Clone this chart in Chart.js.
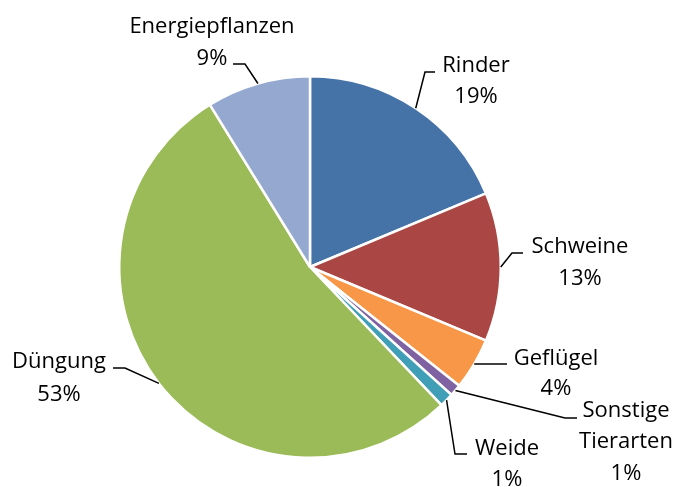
<!DOCTYPE html>
<html>
<head>
<meta charset="utf-8">
<script src="https://cdn.jsdelivr.net/npm/chart.js@4.4.1/dist/chart.umd.min.js"></script>
<style>
  html, body { margin: 0; padding: 0; background: #ffffff; }
  #wrap { width: 677px; height: 487px; }
</style>
</head>
<body>
<div id="wrap"><canvas id="c" width="677" height="487"></canvas></div>
<script>
// ---- data ----
const categories = ["Rinder", "Schweine", "Geflügel", "Sonstige Tierarten", "Weide", "Düngung", "Energiepflanzen"];
const values = [18.7, 12.6, 4.4, 1.0, 1.2, 53.3, 8.8];
const labelLines = [["Rinder"], ["Schweine"], ["Geflügel"], ["Sonstige", "Tierarten"], ["Weide"], ["Düngung"], ["Energiepflanzen"]];
const colors = ["#4573A7", "#AA4744", "#F79747", "#7F62A1", "#419EB7", "#9BBB59", "#95A9D0"];

// ---- label layout (positions of text and leader elbows) ----
const labelLayout = [
  { x: 476, y: [72, 103],        elbow: [425, 72],  end: [435, 72] },
  { x: 580, y: [253, 285],       elbow: [512, 253], end: [523, 253] },
  { x: 556, y: [365, 395],       elbow: [507, 364], end: [507, 364] },
  { x: 626, y: [417, 448, 480],  elbow: [565, 418], end: [577, 418] },
  { x: 507, y: [455, 486],       elbow: [455, 454], end: [467, 454] },
  { x: 59,  y: [368, 401],       elbow: [125, 368], end: [113, 368] },
  { x: 212, y: [33, 65],         elbow: [245, 64],  end: [233, 64] }
];

const FONT = '22px "Open Sans", Lato, sans-serif';

const labelPlugin = {
  id: 'outerLabels',
  afterDatasetsDraw(chart) {
    const ctx = chart.ctx;
    const meta = chart.getDatasetMeta(0);
    const total = values.reduce((a, b) => a + b, 0);
    ctx.save();
    ctx.strokeStyle = '#000000';
    ctx.lineWidth = 1.5;
    ctx.fillStyle = '#000000';
    ctx.font = FONT;
    ctx.textAlign = 'center';
    ctx.textBaseline = 'alphabetic';
    meta.data.forEach((arc, i) => {
      const p = arc.getProps(['x', 'y', 'startAngle', 'endAngle', 'outerRadius'], true);
      const mid = (p.startAngle + p.endAngle) / 2;
      const sx = p.x + Math.cos(mid) * p.outerRadius;
      const sy = p.y + Math.sin(mid) * p.outerRadius;
      const L = labelLayout[i];
      ctx.beginPath();
      ctx.moveTo(sx, sy);
      ctx.lineTo(L.elbow[0], L.elbow[1]);
      ctx.lineTo(L.end[0], L.end[1]);
      ctx.stroke();
      const pct = Math.round(values[i] / total * 100) + '%';
      const lines = labelLines[i].concat([pct]);
      lines.forEach((t, k) => ctx.fillText(t, L.x, L.y[k]));
    });
    ctx.restore();
  }
};

new Chart(document.getElementById('c'), {
  type: 'pie',
  data: {
    labels: categories,
    datasets: [{
      data: values,
      backgroundColor: colors,
      borderColor: '#ffffff',
      borderWidth: 2.5
    }]
  },
  options: {
    responsive: false,
    animation: false,
    layout: { padding: { top: 75, bottom: 28, left: 118, right: 175 } },
    plugins: {
      legend: { display: false },
      tooltip: { enabled: false }
    }
  },
  plugins: [labelPlugin]
});
</script>
</body>
</html>
